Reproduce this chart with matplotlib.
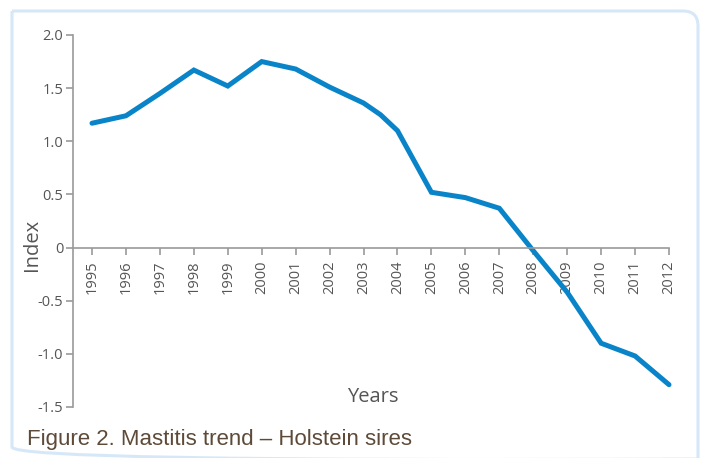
import matplotlib.pyplot as plt
from matplotlib.patches import PathPatch
from matplotlib.path import Path
from matplotlib.transforms import IdentityTransform

# data
years = [1995, 1996, 1997, 1998, 1999, 2000, 2001, 2002, 2003, 2003.5, 2004,
         2005, 2006, 2007, 2008, 2009, 2010, 2011, 2012]
index = [1.17, 1.24, 1.45, 1.67, 1.52, 1.75, 1.68, 1.51, 1.36, 1.25, 1.10,
         0.52, 0.47, 0.37, -0.03, -0.42, -0.90, -1.02, -1.29]
tick_years = list(range(1995, 2013))
y_ticks = [-1.5, -1.0, -0.5, 0, 0.5, 1.0, 1.5, 2.0]
y_labels = ['-1.5', '-1.0', '-0.5', '0', '0.5', '1.0', '1.5', '2.0']

plt.rcParams['font.family'] = ['Open Sans', 'DejaVu Sans']
grey = '#555555'
axis_grey = '#9a9a9a'

fig = plt.figure(figsize=(7.02, 4.58), dpi=100)
ax = fig.add_axes([73/702, 1-407/458, (669-73)/702, (407-35)/458])

ax.plot(years, index, color='#0a84c8', lw=3.6, solid_capstyle='round',
        solid_joinstyle='miter', clip_on=False)

ax.set_xlim(1995 - 19/33.94, 2012)
ax.set_ylim(-1.5, 2.0)

ax.spines['top'].set_visible(False)
ax.spines['right'].set_visible(False)
ax.spines['bottom'].set_position(('data', 0))
ax.spines['left'].set_color(axis_grey)
ax.spines['bottom'].set_color(axis_grey)
ax.spines['left'].set_linewidth(1.2)
ax.spines['bottom'].set_linewidth(1.2)

ax.set_yticks(y_ticks)
ax.set_yticklabels(y_labels)
ax.set_xticks(tick_years)
ax.set_xticklabels([str(y) for y in tick_years], rotation=90)
ax.tick_params(axis='both', colors=axis_grey, labelcolor=grey, length=5, width=1.2,
               labelsize=10.5)
ax.tick_params(axis='x', pad=4)
ax.tick_params(axis='y', pad=2)

fig.text(373/702, 1-397/458, 'Years', fontsize=14.5, color=grey, ha='center', va='center')
fig.text(32/702, 1-245/458, 'Index', fontsize=14.5, color=grey, ha='center', va='center',
         rotation=90)
fig.text(27/702, 1-440/458, 'Figure 2. Mastitis trend \u2013 Holstein sires',
         fontsize=16, color='#5e4a38', ha='left', va='center',
         family=['Liberation Sans', 'DejaVu Sans'])

# light blue frame: square top-left, rounded top-right and bottom-left
L, R, T, B, r = 12, 698, 447, -4, 15
verts = [(L, T), (R - r, T), (R, T), (R, T - r), (R, B), (L + r, B), (L, B), (L, B + r), (L, T)]
codes = [Path.MOVETO, Path.LINETO, Path.CURVE3, Path.CURVE3, Path.LINETO,
         Path.LINETO, Path.CURVE3, Path.CURVE3, Path.CLOSEPOLY]
frame = PathPatch(Path(verts, codes), transform=IdentityTransform(), fill=False,
                  edgecolor='#d6e8f8', lw=2.2)
fig.patches.append(frame)

fig.savefig('out.png', dpi=100)
